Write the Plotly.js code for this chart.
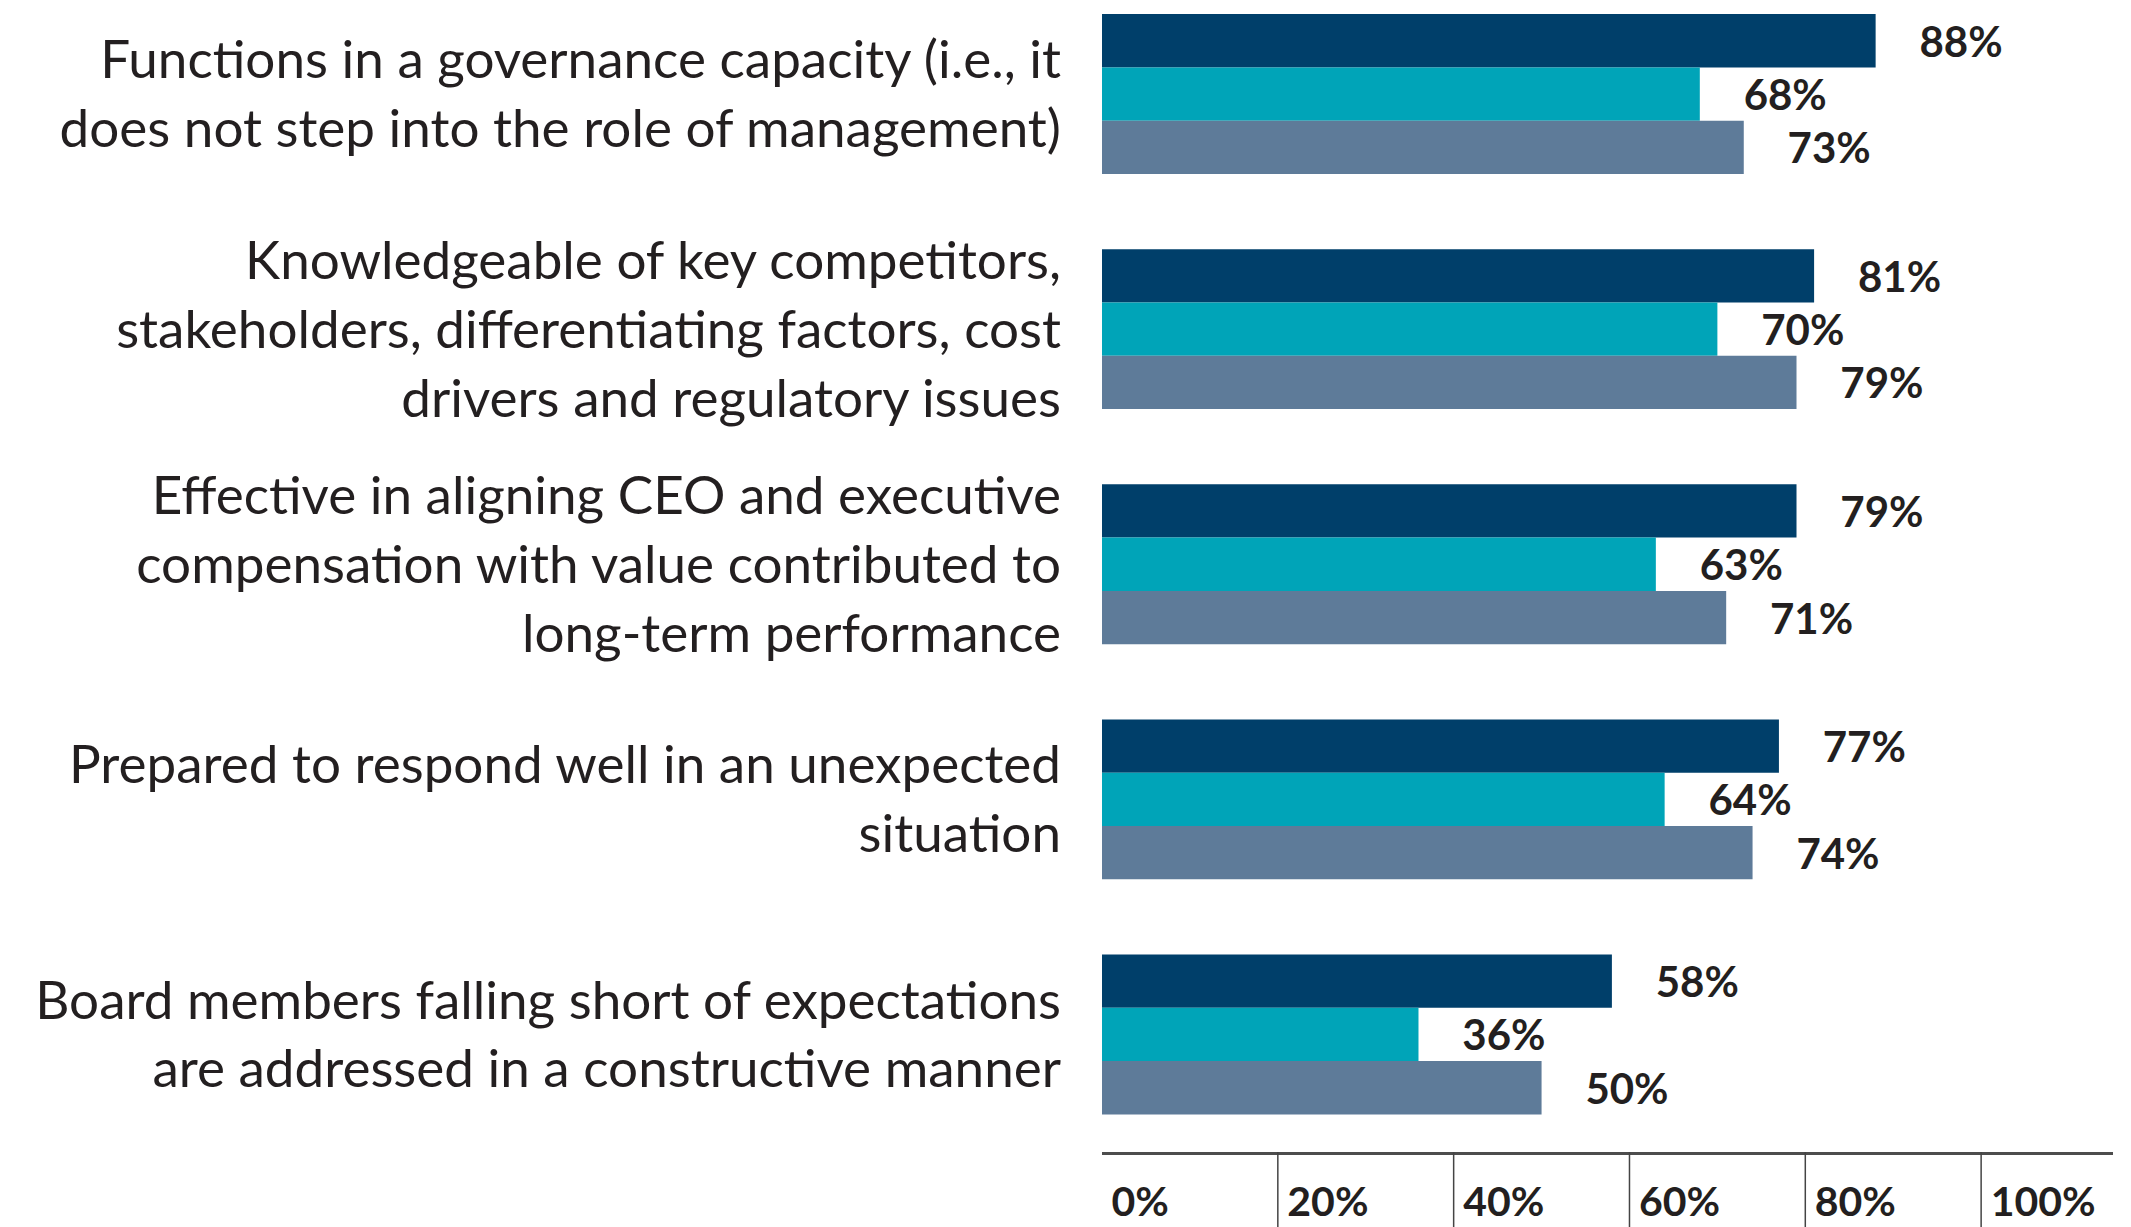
<!DOCTYPE html>
<html>
<head>
<meta charset="utf-8">
<script src="https://cdn.plot.ly/plotly-3.0.1.min.js"></script>
<style>html,body{margin:0;padding:0;background:#fff;}#chart{width:2131px;height:1227px;}</style>
</head>
<body>
<div id="chart"></div>
<script>
const categories = [
  "Functions in a governance capacity (i.e., it<br>does not step into the role of management)",
  "Knowledgeable of key competitors,<br>stakeholders, differentiating factors, cost<br>drivers and regulatory issues",
  "Effective in aligning CEO and executive<br>compensation with value contributed to<br>long-term performance",
  "Prepared to respond well in an unexpected<br>situation",
  "Board members falling short of expectations<br>are addressed in a constructive manner"
];
const seriesNames = ["Series A", "Series B", "Series C"];
const seriesA = [88, 81, 79, 77, 58];
const seriesB = [68, 70, 63, 64, 36];
const seriesC = [73, 79, 71, 74, 50];
const tickVals = [0, 20, 40, 60, 80, 100];
const tickText = ["0%", "20%", "40%", "60%", "80%", "100%"];

const colors = ["#003F6A", "#00A4B8", "#5E7B99"];
const allSeries = [seriesA, seriesB, seriesC];
const pad = "\u00A0\u00A0\u00A0\u00A0";

const traces = allSeries.map((vals, i) => ({
  type: "bar",
  orientation: "h",
  name: seriesNames[i],
  y: categories,
  x: vals,
  marker: {color: colors[i], line: {width: 0}},
  texttemplate: pad + "%{x}%",
  textposition: "outside",
  constraintext: "none",
  cliponaxis: false,
  textfont: {family: "Lato", size: 42, color: "#231F20", weight: 700},
  hoverinfo: "skip"
}));

const plotH = 1227 - 75;
const shapes = tickVals.filter(v => v > 0).map(v => ({
  type: "line", xref: "x", yref: "paper",
  x0: v, x1: v, y0: 0, y1: -75 / plotH,
  line: {color: "#444444", width: 1.5}
}));

const layout = {
  width: 2131,
  height: 1227,
  margin: {l: 1102, r: 18, t: 0, b: 75, pad: 0},
  paper_bgcolor: "#ffffff",
  plot_bgcolor: "#ffffff",
  showlegend: false,
  barmode: "group",
  bargap: 0.32,
  bargroupgap: 0,
  font: {family: "Lato", color: "#231F20"},
  xaxis: {
    range: [0, 115],
    tickmode: "array",
    tickvals: tickVals,
    ticktext: tickText,
    ticks: "",
    showgrid: false,
    zeroline: false,
    showline: true,
    linecolor: "#4D4D4D",
    linewidth: 3,
    ticklabelposition: "outside right",
    ticklabelshift: 8,
    ticklabelstandoff: 12,
    tickfont: {family: "Lato", size: 41, color: "#231F20", weight: 700}
  },
  yaxis: {
    type: "category",
    range: [4.5, -0.4],
    ticks: "",
    showgrid: false,
    zeroline: false,
    showline: false,
    ticklabelstandoff: 40,
    tickfont: {family: "Lato", size: 53, color: "#231F20"}
  },
  shapes: shapes
};

Plotly.newPlot("chart", traces, layout, {displayModeBar: false, staticPlot: true});
</script>
</body>
</html>
